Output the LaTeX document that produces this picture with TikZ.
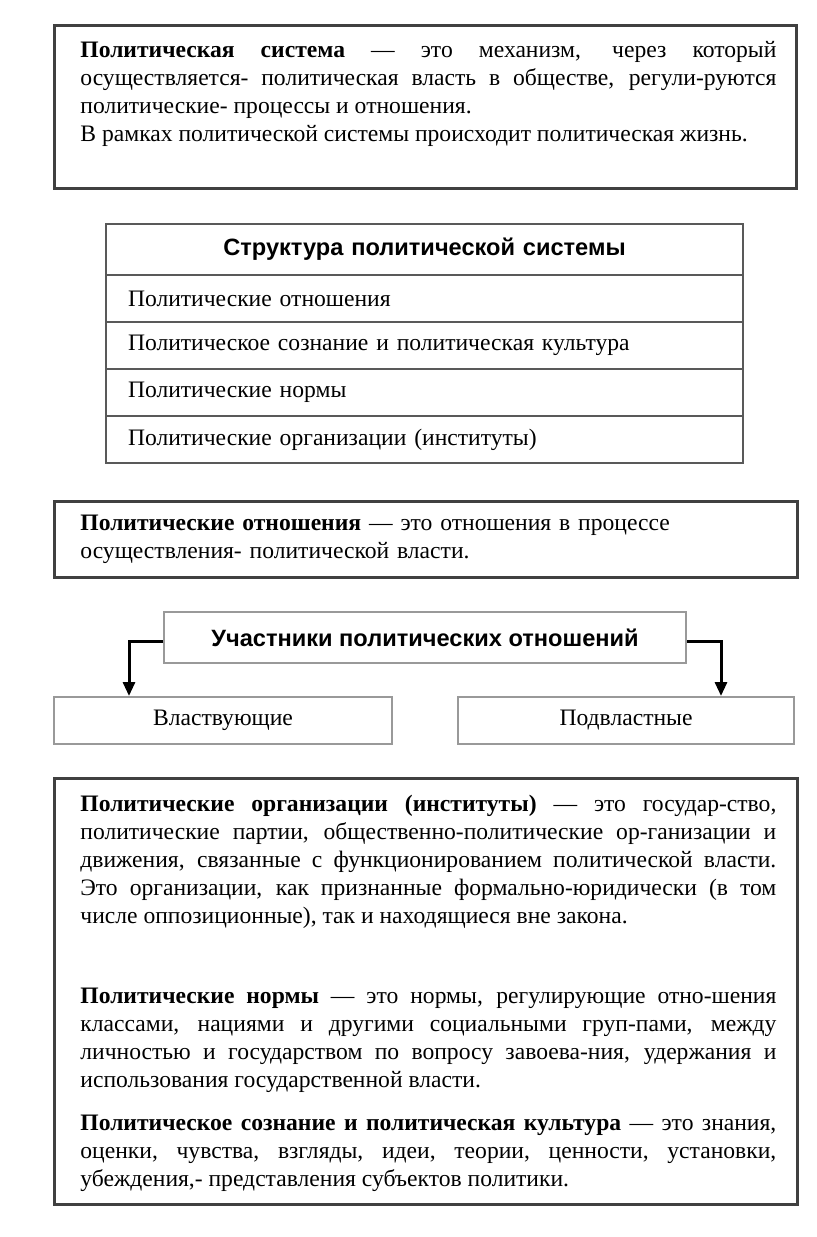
\documentclass[tikz,border=0pt]{standalone}
\usepackage{fontspec}
\setmainfont{Liberation Serif}
\setsansfont{Liberation Sans}
\usetikzlibrary{arrows.meta}

\begin{document}
\begin{tikzpicture}[x=0.5pt, y=-0.5pt, >={Triangle[length=7pt, width=6pt]},
  frame/.style={draw=black!75, line width=1.5pt},
  tabline/.style={draw=black!65, line width=1.2pt},
  lite/.style={draw=black!40, line width=1pt},
  txt/.style={font=\fontsize{11.8}{14}\selectfont},
  headtxt/.style={font=\sffamily\bfseries\fontsize{11.8}{14}\selectfont},
  para/.style={txt, anchor=north west, inner sep=0pt, text width=348pt, align=justify,
    execute at begin node={\hyphenpenalty=10000\exhyphenpenalty=10000\tolerance=9999}},
  cell/.style={tabline, txt, minimum height=23.5pt, text width=296.5pt, inner xsep=11pt, align=left},
  lead/.style={line width=1.5pt}]
  \useasboundingbox[fill=white] (0,0) rectangle (816,1237);

  \draw[frame] (54,25) rectangle (796,188);
  \node[para] (sysdef) at (80,41) {\textbf{Политическая система} — это механизм, через который\linebreak
    осуществляется- политическая власть в обществе, регули-руются\linebreak
    политические- процессы и отношения.\\
    В рамках политической системы происходит политическая жизнь.};

  \node[cell, headtxt, align=center, minimum height=25.5pt] (head) at (424.5,249.5) {Структура политической системы};
  \foreach \t [count=\i] in {Политические отношения, Политическое сознание и политическая культура, Политические нормы, Политические организации (институты)}
    \node[cell] (row\i) at (424.5,{251.5+47*\i}) {\t};

  \draw[frame] (54,501) rectangle (797,577);
  \node[para, align=left, text width=360pt] (reldef) at (80,515) {\textbf{Политические отношения} — это отношения в процессе\\
    осуществления- политической власти.};

  \node[lite, headtxt, minimum width=261pt, minimum height=25.5pt] (part) at (425,637.5) {Участники политических отношений};
  \node[lite, txt, minimum width=169pt, minimum height=23.5pt] (rul) at (223,720.5) {Властвующие};
  \node[lite, txt, minimum width=168pt, minimum height=23.5pt] (subj) at (626,720.5) {Подвластные};
  \coordinate (lbend) at (129,641);
  \coordinate (rbend) at (721,641);
  \draw[lead, ->] (part.west |- lbend) -- (lbend) -- (lbend |- rul.north);
  \draw[lead, ->] (part.east |- rbend) -- (rbend) -- (rbend |- subj.north);

  \draw[frame] (54,778) rectangle (797,1204);
  \node[para] (orgdef) at (80,795) {\textbf{Политические организации (институты)} — это государ-ство,\linebreak
    политические партии, общественно-политические ор-ганизации и\linebreak
    движения, связанные с функционированием политической власти.\linebreak
    Это организации, как признанные формально-юридически (в том\linebreak
    числе оппозиционные), так и находящиеся вне закона.};
  \node[para] (normdef) at (80,988) {\textbf{Политические нормы} — это нормы, регулирующие отно-шения\linebreak
    классами, нациями и другими социальными груп-пами, между\linebreak
    личностью и государством по вопросу завоева-ния, удержания и\linebreak
    использования государственной власти.};
  \node[para] (culdef) at (80,1115) {\textbf{Политическое сознание и политическая культура} — это знания,\linebreak
    оценки, чувства, взгляды, идеи, теории, ценности, установки,\linebreak
    убеждения,- представления субъектов политики.};
\end{tikzpicture}
\end{document}
